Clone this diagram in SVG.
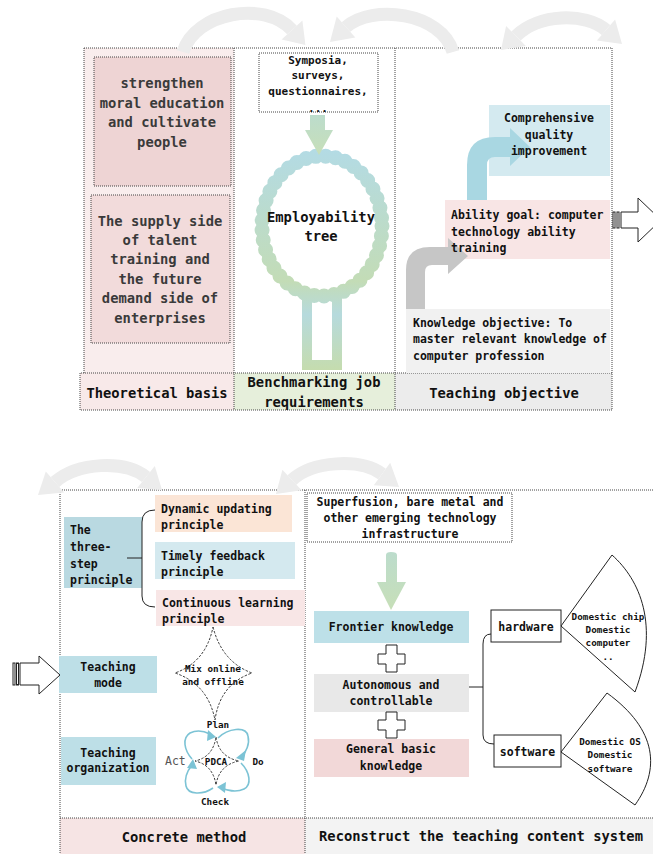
<svg xmlns="http://www.w3.org/2000/svg" width="653" height="854" viewBox="0 0 653 854">
<style>
text{font-family:"DejaVu Sans Mono","Liberation Mono",monospace;font-weight:bold;fill:#111}
.L{font-size:13.8px}
.M{font-size:11.5px}
.S{font-size:9.3px}
.c{text-anchor:middle}
.g{fill:#3a3a3a}
.dot{fill:none;stroke:#444;stroke-width:1;stroke-dasharray:1 1}
.dbox{stroke:#444;stroke-width:1;stroke-dasharray:1 1}
.arc{fill:none;stroke:#ececec;stroke-width:13}
.ah{fill:#ececec}
.blk{fill:#fff;stroke:#222;stroke-width:1}
.cyc{fill:none;stroke:#7cc3d5;stroke-width:1.6}
.cyh{fill:#7cc3d5}
.dash{fill:#fff;stroke:#222;stroke-width:0.9;stroke-dasharray:2.5 1.5}
.ln{fill:none;stroke:#222;stroke-width:1}
</style>
<defs>
<linearGradient id="gTree" x1="0" y1="148" x2="0" y2="370" gradientUnits="userSpaceOnUse">
<stop offset="0" stop-color="#b3dbe5"/><stop offset="0.6" stop-color="#c3dcb6"/><stop offset="0.75" stop-color="#b6dadd"/><stop offset="1" stop-color="#c5dcae"/>
</linearGradient>
<linearGradient id="gArr" x1="0" y1="0" x2="0" y2="1">
<stop offset="0" stop-color="#bcdccc"/><stop offset="1" stop-color="#c7dfb8"/>
</linearGradient>
</defs>

<!-- top frame -->
<g id="top-frame">
<rect x="84" y="48" width="150" height="325" fill="#f9eded"/>
<rect x="80" y="373" width="154" height="37" fill="#f8e9e9"/>
<rect x="234" y="373" width="161" height="37" fill="#e6efdb"/>
<rect x="395" y="373" width="217" height="37" fill="#ececec"/>
<path class="dot" d="M84,48 H612 V410 H80 V373 H612 M84,48 V373 M234,48 V410 M395,48 V410"/>
</g>

<g id="moral">
<rect class="dbox" x="94" y="57" width="137" height="129" fill="#eed4d4"/>
<text class="L c g" x="162" y="88">strengthen</text>
<text class="L c g" x="162" y="107.5">moral education</text>
<text class="L c g" x="162" y="127">and cultivate</text>
<text class="L c g" x="162" y="147">people</text>
</g>
<g id="supply">
<rect class="dbox" x="91" y="195" width="139" height="148" fill="#f2dbdb"/>
<text class="L c g" x="160" y="226">The supply side</text>
<text class="L c g" x="160" y="245">of talent</text>
<text class="L c g" x="160" y="264">training and</text>
<text class="L c g" x="160" y="284">the future</text>
<text class="L c g" x="160" y="303">demand side of</text>
<text class="L c g" x="160" y="323">enterprises</text>
</g>
<g id="lbl-theory"><text class="L c" x="157" y="398">Theoretical basis</text></g>
<g id="lbl-bench"><text class="L c" x="314" y="387">Benchmarking job</text><text class="L c" x="314" y="407">requirements</text></g>
<g id="lbl-obj"><text class="L c" x="504" y="398">Teaching objective</text></g>

<g id="symposia">
<rect class="dbox" x="259" y="53" width="119" height="59" fill="#fff"/>
<text class="c" style="font-size:11px" x="318" y="64">Symposia,</text>
<text class="c" style="font-size:11px" x="318" y="79">surveys,</text>
<text class="c" style="font-size:11px" x="318" y="95">questionnaires,</text>
<text class="c" style="font-size:11px" x="318" y="112">...</text>
</g>
<g id="tree">
<path d="M307,296 V365 H337 V296" fill="none" stroke="url(#gTree)" stroke-width="10"/>
<ellipse cx="322" cy="226" rx="60" ry="70" fill="#fff" stroke="url(#gTree)" stroke-width="11"/>
<ellipse cx="322" cy="226" rx="60" ry="70" fill="none" stroke="url(#gTree)" stroke-width="15" stroke-dasharray="0 10" stroke-linecap="round"/>
<text class="L c" x="321" y="222">Employability</text>
<text class="L c" x="321" y="241">tree</text>
</g>

<g id="comp-box"><rect x="489" y="105" width="121" height="71" fill="#d4eaf0"/></g>
<g id="ability-box"><rect x="445" y="200" width="165" height="59" fill="#f8e5e5"/></g>
<g id="knowledge-box"><rect x="406" y="309" width="204" height="64" fill="#f1f1f1"/></g>

<g id="bent-arrows">
<path d="M406,309 L406,270 Q406,247 430,247 L448,247 L448,238 L468,256 L448,274 L448,265 L432,265 Q425,265 425,272 L425,309 Z" fill="#c6c6c6"/>
<path d="M467,200 L467,165 Q467,137 495,137 L510,137 L510,128 L530,147 L510,166 L510,157 L495,157 Q487,157 487,165 L487,200 Z" fill="#a9d7e2"/>
</g>

<g id="comp">
<text class="M c" x="549" y="122">Comprehensive</text>
<text class="M c" x="549" y="139">quality</text>
<text class="M c" x="549" y="155">improvement</text>
</g>
<g id="ability">
<text class="M" x="451" y="219">Ability goal: computer</text>
<text class="M" x="451" y="236">technology ability</text>
<text class="M" x="451" y="252">training</text>
</g>
<g id="knowledge">
<text class="M" x="413" y="327">Knowledge objective: To</text>
<text class="M" x="413" y="343">master relevant knowledge of</text>
<text class="M" x="413" y="360">computer profession</text>
</g>

<!-- bottom frame -->
<g id="bottom-frame">
<rect x="60" y="818" width="245" height="36" fill="#f6e4e4"/>
<rect x="305" y="818" width="348" height="36" fill="#f3f3f3"/>
<path class="dot" d="M60,490 H653 M60,490 V854 M305,490 V854 M60,818 H653"/>
</g>
<g id="lbl-method"><text class="L c" x="184" y="842">Concrete method</text></g>
<g id="lbl-content"><text class="L c" x="481" y="841">Reconstruct the teaching content system</text></g>

<g id="three-step">
<rect x="64" y="517" width="78" height="71" fill="#b9d9e1"/>
<text class="M" x="70" y="534">The</text>
<text class="M" x="70" y="551">three-</text>
<text class="M" x="70" y="568">step</text>
<text class="M" x="70" y="584">principle</text>
</g>
<g id="dynamic">
<rect x="155" y="495" width="137" height="37" fill="#fbe5d6"/>
<text class="M" x="161" y="513">Dynamic updating</text>
<text class="M" x="161" y="529">principle</text>
</g>
<g id="timely">
<rect x="155" y="542" width="140" height="37" fill="#d4e9ef"/>
<text class="M" x="161" y="560">Timely feedback</text>
<text class="M" x="161" y="576">principle</text>
</g>
<g id="continuous">
<rect x="156" y="590" width="149" height="36" fill="#f8e6e6"/>
<text class="M" x="162" y="607">Continuous learning</text>
<text class="M" x="162" y="623">principle</text>
</g>
<g id="mode">
<rect x="59" y="656" width="98" height="37" fill="#bddfe7"/>
<text class="M c" x="108" y="671">Teaching</text>
<text class="M c" x="108" y="687">mode</text>
</g>
<g id="org">
<rect x="61" y="737" width="95" height="48" fill="#bddfe7"/>
<text class="M c" x="108" y="757">Teaching</text>
<text class="M c" x="108" y="772">organization</text>
</g>
<g id="mix">
<path class="dash" d="M213,627 Q222,662 252,673 Q220,684 215,720 Q208,684 175,673 Q206,662 213,627 Z"/>
<text class="S c" x="213" y="672">Mix online</text>
<text class="S c" x="213" y="685">and offline</text>
</g>
<g id="pdca">
<path class="dash" d="M216,737 Q219,757 239,761 Q219,765 216,785 Q213,765 195,761 Q213,757 216,737 Z"/>
<text class="S c" x="216" y="764.5">PDCA</text>
<text class="S c" x="218" y="728">Plan</text>
<text class="S c" x="258" y="765">Do</text>
<text class="S c" x="215" y="805">Check</text>
<text style="font-size:11.5px;font-weight:normal;fill:#555" x="165" y="765">Act</text>
</g>

<g id="superfusion">
<rect class="dbox" x="307" y="493" width="205" height="49" fill="#fff"/>
<text class="M c" x="410" y="506">Superfusion, bare metal and</text>
<text class="M c" x="410" y="522">other emerging technology</text>
<text class="M c" x="410" y="538">infrastructure</text>
</g>
<g id="frontier">
<rect x="314" y="611" width="155" height="32" fill="#bde0e8"/>
<text class="M c" x="391" y="631">Frontier knowledge</text>
</g>
<g id="autonomous">
<rect x="314" y="674" width="155" height="38" fill="#e8e8e8"/>
<text class="M c" x="391" y="689">Autonomous and</text>
<text class="M c" x="391" y="705">controllable</text>
</g>
<g id="general">
<rect x="314" y="739" width="155" height="38" fill="#f2d8d8"/>
<text class="M c" x="391" y="753">General basic</text>
<text class="M c" x="391" y="770">knowledge</text>
</g>
<g id="plus1"><path class="blk" d="M386,645 H397 V654 H405 V664 H397 V672 H386 V664 H378 V654 H386 Z"/></g>
<g id="plus2"><path class="blk" d="M386,712 H397 V720 H405 V730 H397 V738 H386 V730 H378 V720 H386 Z"/></g>
<g id="hardware">
<rect x="491" y="610" width="70" height="32" fill="#fff" stroke="#222"/>
<text class="M c" x="526" y="631">hardware</text>
</g>
<g id="software">
<rect x="494" y="735" width="67" height="32" fill="#fff" stroke="#222"/>
<text class="M c" x="527.5" y="756">software</text>
</g>
<g id="sector-hw">
<path class="ln" d="M561,626 L612,555 C640,580 660,625 635,692 Z"/>
<text class="S c" x="608" y="620">Domestic chip</text>
<text class="S c" x="608" y="633">Domestic</text>
<text class="S c" x="608" y="646">computer</text>
<text class="S c" x="608" y="660">..</text>
</g>
<g id="sector-sw">
<path class="ln" d="M561,752 L607,693 C658,730 660,770 635,805 Z"/>
<text class="S c" x="610" y="745">Domestic OS</text>
<text class="S c" x="610" y="758">Domestic</text>
<text class="S c" x="610" y="772">software</text>
</g>

<!-- connectors -->
<g id="connectors">
<path d="M310,115 H325 V130 H333 L319,155 L305,130 H310 Z" fill="url(#gArr)"/>
<path d="M386,555 Q386,552 391,552 Q397,552 397,555 V582 H406 L391,610 L377,582 H386 Z" fill="url(#gArr)"/>
<path class="ln" d="M127,558 H142 M155,510 Q142,510 142,522 V596 Q142,607 155,607"/>
<path class="ln" d="M469,687 H483 M491,634 Q483,634 483,644 V735 Q483,744 494,744"/>
<!-- PDCA cycle -->
<path class="cyc" d="M218,738 C228,728 246,726 248,736 C250,744 246,752 242,756"/>
<polygon class="cyh" points="236,758 246,750 244,761"/>
<path class="cyc" d="M241,763 C250,772 252,785 244,789 C236,793 226,790 221,788"/>
<polygon class="cyh" points="217,787 226,782 225,793"/>
<path class="cyc" d="M213,788 C203,795 188,795 186,786 C184,778 188,770 192,765"/>
<polygon class="cyh" points="193,759 197,769 187,768"/>
<path class="cyc" d="M192,759 C184,750 182,738 190,733 C198,729 206,732 210,734"/>
<polygon class="cyh" points="216,737 207,741 208,730"/>
<!-- block arrows -->
<rect class="blk" x="613" y="212" width="2" height="16"/>
<rect class="blk" x="617" y="212" width="2" height="16"/>
<path class="blk" d="M621,212 H638 V198 L661,220 L638,242 V228 H621 Z"/>
<rect class="blk" x="13" y="663" width="2" height="22"/>
<rect class="blk" x="16.5" y="663" width="2" height="22"/>
<path class="blk" d="M20,663 H39 V656 L60,675 L39,694 V685 H20 Z"/>
<!-- light curved arrows -->
<path class="arc" d="M183,52 C195,12 265,0 292,30"/>
<polygon class="ah" points="305.4,44.9 281.6,39.4 302.4,20.6"/>
<path class="arc" d="M453,52 C441,12 372,4 346,27"/>
<polygon class="ah" points="330,42 355.3,37.5 336.7,16.5"/>
<path class="arc" d="M516,36 C538,14 585,12 606,30"/>
<polygon class="ah" points="501,50 525.9,45.9 506.1,26.1"/>
<polygon class="ah" points="622,44 596.9,40.6 615.1,19.4"/>
<path class="arc" d="M55,482 C78,462 125,460 146,477"/>
<polygon class="ah" points="38,495 64.2,492.6 45.8,471.4"/>
<polygon class="ah" points="162,490 137.2,487.9 154.8,466.1"/>
<path class="arc" d="M292,480 C312,461 360,458 382,474"/>
<polygon class="ah" points="276,494 301.6,490.2 282.4,469.8"/>
<polygon class="ah" points="399,487 373.8,485.3 390.2,462.7"/>
</g>
</svg>
